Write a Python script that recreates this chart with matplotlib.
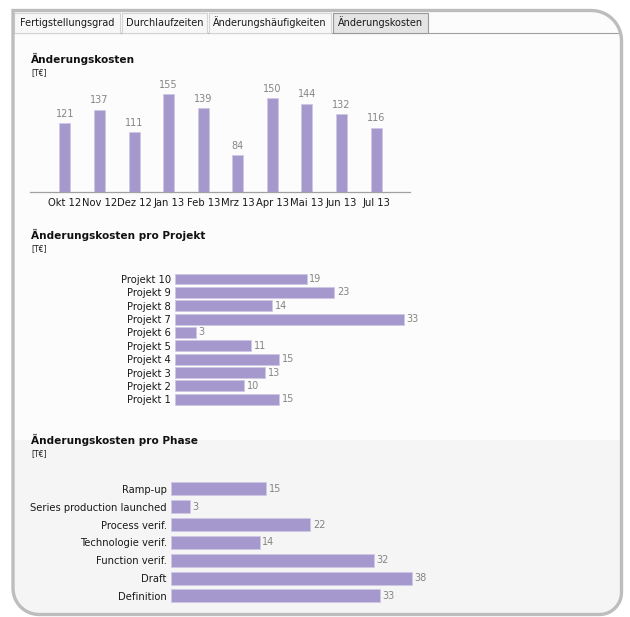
import numpy as np
import matplotlib
matplotlib.use("Agg")
import matplotlib.pyplot as plt
from matplotlib.patches import Rectangle, PathPatch
from matplotlib.path import Path

# chart data
months = ["Okt 12", "Nov 12", "Dez 12", "Jan 13", "Feb 13", "Mrz 13", "Apr 13", "Mai 13", "Jun 13", "Jul 13"]
month_costs = [121, 137, 111, 155, 139, 84, 150, 144, 132, 116]

projects = ["Projekt 1", "Projekt 2", "Projekt 3", "Projekt 4", "Projekt 5",
            "Projekt 6", "Projekt 7", "Projekt 8", "Projekt 9", "Projekt 10"]
project_costs = [15, 10, 13, 15, 11, 3, 33, 14, 23, 19]

phases = ["Definition", "Draft", "Function verif.", "Technologie verif.",
          "Process verif.", "Series production launched", "Ramp-up"]
phase_costs = [33, 38, 32, 14, 22, 3, 15]

tabs = ["Fertigstellungsgrad", "Durchlaufzeiten", "Änderungshäufigkeiten", "Änderungskosten"]

BAR = "#a598cd"
EDGE = "#cfc8e6"
VAL = "#858585"
TXT = "#1a1a1a"
W, H = 630, 617

plt.rcParams["font.family"] = ["DejaVu Sans"]

fig = plt.figure(figsize=(W / 100, H / 100), dpi=100)
fig.patch.set_facecolor("white")


def px_axes(x0, y0, x1, y1, **kw):
    return fig.add_axes([x0 / W, 1 - y1 / H, (x1 - x0) / W, (y1 - y0) / H], **kw)


# background, frame and tabs (pixel coordinates)
bg = px_axes(0, 0, W, H)
bg.set_xlim(0, W)
bg.set_ylim(H, 0)
bg.axis("off")


def frame_path(x0, y0, x1, y1, r_tr, r_br, r_bl):
    pts = [(x0, y0), (x1 - r_tr, y0)]
    for a in np.linspace(-np.pi / 2, 0, 12):
        pts.append((x1 - r_tr + r_tr * np.cos(a), y0 + r_tr + r_tr * np.sin(a)))
    for a in np.linspace(0, np.pi / 2, 12):
        pts.append((x1 - r_br + r_br * np.cos(a), y1 - r_br + r_br * np.sin(a)))
    for a in np.linspace(np.pi / 2, np.pi, 12):
        pts.append((x0 + r_bl + r_bl * np.cos(a), y1 - r_bl + r_bl * np.sin(a)))
    pts.append((x0, y0))
    return Path(pts, closed=True)


fp = frame_path(13, 10.5, 621.5, 614.5, 30, 22, 26)
fill = PathPatch(fp, facecolor="#fcfcfc", edgecolor="none", zorder=0)
bg.add_patch(fill)
low = Rectangle((0, 440), W, H - 440, facecolor="#f5f5f5", edgecolor="none", zorder=0.5)
bg.add_patch(low)
low.set_clip_path(fill)
bg.add_patch(PathPatch(fp, facecolor="none", edgecolor="#bdbdc0", linewidth=2.4, zorder=3))

# tab strip
tab_x = [14, 122, 209, 333]
tab_w = [106, 85, 122, 95]
bg.plot([14, 621], [32.5, 32.5], color="#a0a0a0", linewidth=0.8, zorder=1)
for i, (tx, tw, label) in enumerate(zip(tab_x, tab_w, tabs)):
    sel = i == len(tabs) - 1
    bg.add_patch(Rectangle((tx, 12.5), tw, 20, facecolor="#e4e4e4" if sel else "#f7f7f7",
                           edgecolor="#9a9a9a" if sel else "#d4d4d4", linewidth=0.8, zorder=2))
    bg.text(tx + tw / 2, 22.5, label, ha="center", va="center", fontsize=7, color=TXT, zorder=3)

# section titles
for y, title in [(59, "Änderungskosten"), (235, "Änderungskosten pro Projekt"),
                 (440, "Änderungskosten pro Phase")]:
    bg.text(31, y, title, fontsize=7.6, fontweight="bold", color="#111111", va="center")
    bg.text(31, y + 14, "[T€]", fontsize=5.5, color=TXT, va="center")

# monthly column chart
ax1 = px_axes(30, 80, 410, 192)
ax1.patch.set_alpha(0)
x = np.arange(len(months))
ax1.bar(x, month_costs, width=0.32, bottom=0, color=BAR, edgecolor=EDGE, linewidth=0.6)
ax1.set_xlim(-1.01, 9.98)
ax1.set_ylim(41, 171.4)
for xi, v in zip(x, month_costs):
    ax1.annotate(str(v), (xi, v), xytext=(0, 3), textcoords="offset points",
                 ha="center", va="bottom", fontsize=7, color=VAL)
ax1.set_xticks(x)
ax1.set_xticklabels(months, fontsize=7.2, color=TXT)
ax1.tick_params(axis="x", length=0, pad=4)
ax1.set_yticks([])
for s in ["top", "right", "left"]:
    ax1.spines[s].set_visible(False)
ax1.spines["bottom"].set_color("#a0a0a0")
ax1.spines["bottom"].set_linewidth(0.9)


def hbar(ax, labels, values, height, xmax):
    y = np.arange(len(labels))
    ax.barh(y, values, height=height, color=BAR, edgecolor=EDGE, linewidth=0.6)
    ax.set_ylim(-0.5, len(labels) - 0.5)
    ax.set_xlim(0, xmax)
    for yi, v in zip(y, values):
        ax.annotate(str(v), (v, yi), xytext=(2, 0), textcoords="offset points",
                    ha="left", va="center", fontsize=7, color=VAL)
    ax.set_yticks(y)
    ax.set_yticklabels(labels, fontsize=7.2, color=TXT)
    ax.tick_params(axis="y", length=0, pad=3)
    ax.set_xticks([])
    for s in ax.spines.values():
        s.set_visible(False)
    ax.patch.set_alpha(0)


# projects
ax2 = px_axes(175, 272.3, 410, 406)
hbar(ax2, projects, project_costs, 0.82, 235 / 6.93)

# phases
ax3 = px_axes(171, 480, 430, 604.8)
hbar(ax3, phases, phase_costs, 0.73, 259 / 6.33)

fig.savefig("out.png", dpi=100)
